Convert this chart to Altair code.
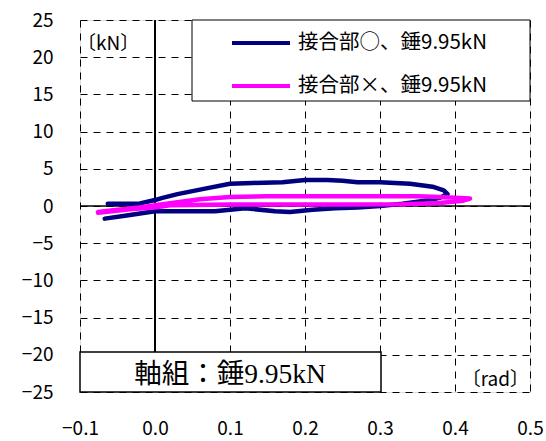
import altair as alt
import pandas as pd

# Load–rotation loops (rotation angle in rad, load in kN)
series_names = ["接合部○、錘9.95kN", "接合部×、錘9.95kN"]
series_colors = ["#000080", "#FF00FF"]

joint_on_x = [-0.063, -0.04, -0.02, 0.0, 0.01, 0.03, 0.05, 0.07, 0.10, 0.13, 0.17,
              0.20, 0.23, 0.25, 0.27, 0.30, 0.34, 0.37, 0.385, 0.39, 0.38, 0.36,
              0.33, 0.30, 0.27, 0.24, 0.21, 0.18, 0.16, 0.12, 0.10, 0.08, 0.04,
              0.0, -0.02, -0.04, -0.067]
joint_on_y = [0.3, 0.3, 0.35, 0.8, 1.1, 1.6, 2.0, 2.4, 3.0, 3.1, 3.2,
              3.5, 3.5, 3.4, 3.2, 3.2, 3.0, 2.6, 2.1, 1.6, 1.1, 0.7,
              0.3, 0.0, -0.2, -0.3, -0.5, -0.8, -0.7, -0.3, -0.5, -0.7, -0.7,
              -0.7, -1.0, -1.3, -1.7]

joint_off_x = [-0.076, -0.05, -0.02, 0.0, 0.03, 0.06, 0.10, 0.15, 0.20, 0.25, 0.30,
               0.35, 0.38, 0.40, 0.42, 0.41, 0.38, 0.33, 0.25, 0.18, 0.10, 0.05,
               0.02, 0.0, -0.03, -0.076]
joint_off_y = [-0.8, -0.5, -0.2, 0.1, 0.5, 0.9, 1.2, 1.3, 1.3, 1.3, 1.3,
               1.3, 1.2, 1.1, 1.0, 0.7, 0.4, 0.25, 0.2, 0.2, 0.2, 0.15,
               0.1, -0.2, -0.4, -0.9]

x_ticks = [-0.1, 0.0, 0.1, 0.2, 0.3, 0.4, 0.5]
y_ticks = [-25, -20, -15, -10, -5, 0, 5, 10, 15, 20, 25]

rows = []
for name, xs, ys in [(series_names[0], joint_on_x, joint_on_y),
                     (series_names[1], joint_off_x, joint_off_y)]:
    for i, (xv, yv) in enumerate(zip(xs, ys)):
        rows.append({"series": name, "rad": xv, "kN": yv, "step": i})
df = pd.DataFrame(rows)

# Solid zero axes drawn as data rules
zero_axes = pd.DataFrame({"x0": [0.0], "x1": [0.0], "y0": [-25.0], "y1": [25.0]})
zero_axes_h = pd.DataFrame({"x0": [-0.1], "x1": [0.5], "y0": [0.0], "y1": [0.0]})
one = pd.DataFrame({"k": [0]})  # single row for annotation layers

SANS = "Noto Sans CJK JP"

x_scale = alt.Scale(domain=[-0.1, 0.5], nice=False, zero=False)
y_scale = alt.Scale(domain=[-25, 25], nice=False, zero=False)

x_axis = alt.Axis(values=x_ticks, format=".1f", title=None, ticks=False, domain=False,
                  grid=True, gridColor="#000000", gridDash=[7, 6], gridWidth=1,
                  labelFont=SANS, labelFontSize=19, labelColor="#000000",
                  labelPadding=27, labelFlush=False, labelOverlap=False)
y_axis = alt.Axis(values=y_ticks, format="d", title=None, ticks=False, domain=False,
                  grid=True, gridColor="#000000", gridDash=[7, 6], gridWidth=1,
                  labelFont=SANS, labelFontSize=19, labelColor="#000000",
                  labelPadding=27, labelFlush=False, labelOverlap=False)

base = alt.Chart(df)

grid = base.mark_point(opacity=0).encode(
    x=alt.X("rad:Q", scale=x_scale, axis=x_axis),
    y=alt.Y("kN:Q", scale=y_scale, axis=y_axis),
)

zero_v = alt.Chart(zero_axes).mark_rule(color="#000000", strokeWidth=2).encode(
    x=alt.X("x0:Q", scale=x_scale, axis=x_axis),
    y=alt.Y("y0:Q", scale=y_scale, axis=y_axis),
    y2="y1:Q",
)
zero_h = alt.Chart(zero_axes_h).mark_rule(color="#000000", strokeWidth=1.5).encode(
    x=alt.X("x0:Q", scale=x_scale, axis=x_axis),
    x2="x1:Q",
    y=alt.Y("y0:Q", scale=y_scale, axis=y_axis),
)

lines = base.mark_line(strokeWidth=4.5, strokeJoin="round", strokeCap="round").encode(
    x=alt.X("rad:Q", scale=x_scale, axis=x_axis),
    y=alt.Y("kN:Q", scale=y_scale, axis=y_axis),
    color=alt.Color(
        "series:N",
        scale=alt.Scale(domain=series_names, range=series_colors),
        sort=series_names,
        legend=alt.Legend(
            title=None, orient="none", legendX=150, legendY=-8,
            symbolType="stroke", symbolSize=3364, symbolStrokeWidth=4,
            labelFont=SANS, labelFontSize=20.5, labelColor="#000000",
            labelOffset=6, labelLimit=400, rowPadding=1, padding=0,
        ),
    ),
    order="step:Q",
)

legend_box = alt.Chart(one).mark_rect(fill="#FFFFFF", stroke="#000000", strokeWidth=1).encode(
    x=alt.value(112), x2=alt.value(450), y=alt.value(0), y2=alt.value(81)
)

caption_box = alt.Chart(one).mark_rect(fill="#FFFFFF", stroke="#000000", strokeWidth=1.5).encode(
    x=alt.value(0), x2=alt.value(301), y=alt.value(332), y2=alt.value(372)
)
caption = alt.Chart(one).mark_text(
    text="軸組：錘9.95kN", font="Liberation Serif, Noto Sans CJK JP", fontSize=27.5,
    fontWeight="normal", color="#000000", align="center", baseline="middle"
).encode(x=alt.value(150), y=alt.value(355))

unit_kn = alt.Chart(one).mark_text(
    text="〔kN〕", font=SANS, fontSize=19, fontWeight="normal", color="#000000",
    align="left", baseline="middle"
).encode(x=alt.value(-3), y=alt.value(24))
unit_rad = alt.Chart(one).mark_text(
    text="〔rad〕", font=SANS, fontSize=19, fontWeight="normal", color="#000000",
    align="right", baseline="middle"
).encode(x=alt.value(449), y=alt.value(360))

chart = alt.layer(
    grid, zero_v, zero_h, lines, legend_box, caption_box, caption, unit_kn, unit_rad
).properties(
    width=450, height=372,
    autosize=alt.AutoSizeParams(type="none"),
    padding={"left": 80, "top": 20, "right": 16, "bottom": 49},
).configure_view(
    stroke="#000000", strokeWidth=1
).configure_axis(
    labelOverlap=False
).configure(background="#FFFFFF")

chart.save("out.html", embed_options={"renderer": "svg", "actions": False})
